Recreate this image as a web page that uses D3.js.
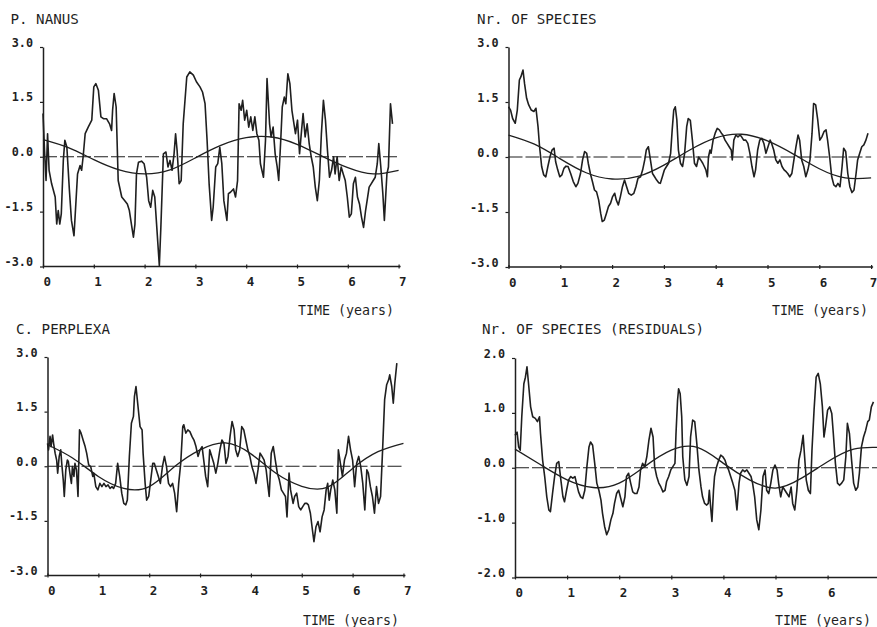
<!DOCTYPE html>
<html>
<head>
<meta charset="utf-8">
<script src="https://cdn.jsdelivr.net/npm/d3@7"></script>
<style>
  body { margin: 0; background: #fff; }
  svg { display: block; }
</style>
</head>
<body>
<svg id="chart" width="877" height="627"></svg>
<script>
// ---- data: [time in years, standardized value] ----
const nanus = [[0.00,1.18],[0.03,0.17],[0.06,-0.65],[0.09,0.63],[0.12,-0.37],[0.17,-0.74],[0.24,-1.10],[0.27,-1.84],[0.30,-1.47],[0.33,-1.84],[0.36,-1.56],[0.40,-0.10],[0.43,0.45],[0.47,0.26],[0.52,-0.92],[0.56,-1.74],[0.61,-2.16],[0.65,-1.20],[0.68,-0.47],[0.73,-0.24],[0.76,-0.37],[0.79,0.00],[0.83,0.63],[0.89,0.81],[0.96,1.00],[1.00,1.91],[1.04,2.00],[1.09,1.82],[1.14,1.09],[1.19,1.04],[1.25,1.04],[1.31,0.90],[1.35,0.72],[1.37,1.27],[1.40,1.73],[1.44,1.36],[1.48,-0.65],[1.55,-1.10],[1.61,-1.20],[1.66,-1.29],[1.70,-1.47],[1.75,-1.93],[1.78,-2.20],[1.81,-1.84],[1.84,-0.47],[1.88,-0.15],[1.94,-0.12],[1.99,-0.19],[2.04,-0.56],[2.08,-1.20],[2.12,-1.38],[2.16,-0.92],[2.20,-1.10],[2.24,-1.93],[2.29,-2.98],[2.32,-1.93],[2.37,0.08],[2.42,0.13],[2.46,-0.28],[2.50,-0.10],[2.54,-0.37],[2.58,0.08],[2.61,0.63],[2.64,0.17],[2.68,-0.74],[2.72,-0.65],[2.76,0.90],[2.83,2.18],[2.89,2.32],[2.96,2.23],[3.02,2.05],[3.09,1.91],[3.14,1.77],[3.19,1.45],[3.23,0.45],[3.27,-0.74],[3.32,-1.74],[3.35,-1.38],[3.40,-0.28],[3.44,-0.19],[3.48,0.26],[3.52,-0.19],[3.56,-1.20],[3.62,-1.74],[3.65,-1.01],[3.69,-0.97],[3.75,-0.88],[3.79,-1.10],[3.83,-0.65],[3.86,1.45],[3.90,1.27],[3.93,1.54],[3.97,1.00],[4.01,1.27],[4.05,0.81],[4.09,1.09],[4.13,0.72],[4.17,1.09],[4.21,0.63],[4.25,0.45],[4.28,-0.19],[4.34,-0.56],[4.38,0.45],[4.41,2.14],[4.46,0.90],[4.49,0.54],[4.53,0.81],[4.57,0.08],[4.61,-0.28],[4.64,-0.65],[4.68,0.45],[4.71,1.36],[4.75,1.63],[4.78,1.45],[4.82,2.27],[4.86,2.00],[4.90,1.27],[4.94,0.90],[4.97,0.63],[5.01,1.00],[5.05,0.08],[5.09,0.72],[5.12,1.18],[5.16,0.54],[5.20,0.90],[5.24,0.36],[5.28,0.00],[5.32,-0.28],[5.36,-0.83],[5.40,-1.20],[5.44,-0.65],[5.48,0.63],[5.52,1.54],[5.56,1.00],[5.60,0.17],[5.64,-0.56],[5.68,-0.37],[5.72,0.00],[5.75,-0.47],[5.79,0.00],[5.83,-0.65],[5.87,-0.28],[5.91,-0.47],[5.95,-0.65],[5.99,-1.10],[6.03,-1.65],[6.07,-1.56],[6.11,-0.74],[6.15,-0.56],[6.19,-1.10],[6.23,-1.29],[6.27,-1.65],[6.31,-1.93],[6.35,-1.47],[6.38,-1.20],[6.42,-0.83],[6.46,-0.74],[6.50,-0.65],[6.54,-0.56],[6.58,-0.19],[6.61,0.36],[6.65,-0.28],[6.69,-1.01],[6.72,-1.74],[6.77,-0.47],[6.80,-0.28],[6.84,1.45],[6.88,0.90]];

const species = [[0.00,1.37],[0.04,1.28],[0.08,1.05],[0.13,0.92],[0.17,1.28],[0.21,2.10],[0.24,2.19],[0.28,2.37],[0.31,2.00],[0.35,1.60],[0.39,1.42],[0.44,1.28],[0.49,1.24],[0.53,1.33],[0.57,0.83],[0.60,0.28],[0.64,-0.26],[0.68,-0.49],[0.72,-0.54],[0.76,-0.26],[0.80,0.00],[0.84,0.19],[0.88,0.24],[0.91,-0.13],[0.95,-0.35],[0.99,-0.54],[1.03,-0.49],[1.07,-0.31],[1.11,-0.25],[1.15,-0.26],[1.20,-0.45],[1.25,-0.67],[1.30,-0.81],[1.34,-0.72],[1.39,-0.45],[1.43,-0.08],[1.47,0.15],[1.51,0.10],[1.54,-0.17],[1.58,-0.45],[1.62,-0.67],[1.66,-0.90],[1.70,-0.95],[1.74,-1.17],[1.78,-1.54],[1.81,-1.76],[1.85,-1.72],[1.89,-1.54],[1.93,-1.35],[1.97,-1.26],[2.01,-1.08],[2.05,-0.99],[2.08,-1.17],[2.12,-1.31],[2.16,-1.08],[2.20,-0.81],[2.24,-0.63],[2.28,-0.81],[2.32,-0.99],[2.37,-1.04],[2.42,-0.99],[2.46,-0.81],[2.50,-0.58],[2.55,-0.54],[2.59,-0.35],[2.63,-0.08],[2.66,0.19],[2.70,0.28],[2.74,-0.08],[2.78,-0.45],[2.82,-0.54],[2.86,-0.63],[2.90,-0.70],[2.93,-0.72],[2.97,-0.54],[3.01,-0.35],[3.05,-0.26],[3.09,-0.17],[3.13,0.10],[3.16,0.74],[3.19,1.28],[3.22,1.37],[3.25,1.01],[3.28,0.19],[3.32,-0.17],[3.36,-0.26],[3.40,0.10],[3.44,0.83],[3.47,1.05],[3.51,1.00],[3.55,0.46],[3.59,-0.17],[3.63,-0.26],[3.67,0.00],[3.71,-0.08],[3.75,-0.17],[3.78,-0.26],[3.81,-0.35],[3.84,-0.54],[3.86,0.00],[3.89,0.19],[3.91,0.10],[3.95,0.46],[3.99,0.65],[4.03,0.78],[4.07,0.74],[4.11,0.65],[4.14,0.60],[4.18,0.46],[4.22,0.37],[4.26,0.28],[4.30,0.19],[4.32,-0.08],[4.35,0.46],[4.39,0.60],[4.43,0.55],[4.47,0.60],[4.50,0.55],[4.54,0.46],[4.58,0.46],[4.62,0.37],[4.66,0.10],[4.70,-0.26],[4.74,-0.54],[4.77,-0.35],[4.81,0.19],[4.85,0.46],[4.89,0.51],[4.93,0.37],[4.97,0.10],[5.01,0.28],[5.05,0.46],[5.08,0.37],[5.12,0.19],[5.16,-0.08],[5.20,-0.17],[5.24,-0.08],[5.28,-0.26],[5.32,-0.35],[5.36,-0.40],[5.39,-0.45],[5.43,-0.54],[5.47,-0.45],[5.51,-0.08],[5.55,0.28],[5.59,0.60],[5.62,0.46],[5.66,-0.08],[5.70,-0.26],[5.74,-0.54],[5.78,-0.35],[5.82,-0.08],[5.86,0.65],[5.89,1.46],[5.93,1.42],[5.97,1.01],[6.01,0.46],[6.05,0.55],[6.09,0.69],[6.13,0.74],[6.16,0.46],[6.20,0.00],[6.24,-0.54],[6.28,-0.76],[6.32,-0.81],[6.36,-0.72],[6.40,-0.81],[6.44,-0.26],[6.47,0.24],[6.51,0.15],[6.55,-0.45],[6.59,-0.81],[6.63,-0.97],[6.67,-0.90],[6.71,-0.45],[6.74,-0.08],[6.78,0.10],[6.82,0.28],[6.86,0.33],[6.90,0.46],[6.94,0.65]];

const perplexa = [[0.00,0.63],[0.02,0.45],[0.05,0.82],[0.07,0.54],[0.10,0.86],[0.12,0.63],[0.15,0.36],[0.18,0.17],[0.20,-0.19],[0.23,0.27],[0.26,0.45],[0.28,0.08],[0.31,-0.38],[0.33,-0.83],[0.36,-0.10],[0.39,0.17],[0.41,0.13],[0.44,-0.19],[0.47,-0.47],[0.49,-0.01],[0.52,-0.28],[0.54,0.08],[0.57,-0.10],[0.60,-0.83],[0.63,1.00],[0.66,0.91],[0.70,0.72],[0.74,0.54],[0.77,0.36],[0.81,0.04],[0.85,-0.01],[0.89,-0.28],[0.91,-0.19],[0.95,-0.56],[0.99,-0.65],[1.03,-0.47],[1.07,-0.56],[1.11,-0.47],[1.15,-0.56],[1.19,-0.51],[1.23,-0.61],[1.27,-0.56],[1.30,-0.61],[1.34,-0.47],[1.38,0.08],[1.42,-0.28],[1.46,-0.74],[1.50,-1.02],[1.54,-1.06],[1.57,-0.93],[1.61,0.27],[1.65,1.18],[1.69,1.37],[1.71,1.92],[1.74,2.19],[1.78,1.64],[1.82,1.09],[1.86,1.00],[1.88,0.36],[1.92,-0.47],[1.95,-0.93],[1.99,-0.83],[2.03,-0.38],[2.07,0.08],[2.10,0.08],[2.14,-0.10],[2.18,-0.28],[2.22,-0.47],[2.26,-0.01],[2.30,0.27],[2.34,-0.01],[2.38,-0.47],[2.42,-0.56],[2.46,-0.47],[2.50,-0.74],[2.54,-1.25],[2.58,-0.47],[2.62,0.08],[2.66,1.09],[2.68,1.14],[2.72,0.91],[2.76,1.00],[2.80,0.95],[2.84,0.82],[2.88,0.72],[2.92,0.54],[2.96,0.27],[3.00,0.45],[3.04,0.54],[3.08,0.08],[3.11,-0.28],[3.15,-0.56],[3.19,0.45],[3.23,0.27],[3.27,0.08],[3.31,-0.19],[3.35,0.08],[3.39,0.45],[3.43,0.72],[3.47,0.63],[3.51,0.08],[3.55,0.27],[3.59,0.82],[3.63,1.23],[3.67,1.00],[3.70,0.45],[3.74,0.27],[3.78,0.45],[3.82,1.09],[3.86,1.00],[3.90,0.72],[3.94,0.45],[3.98,0.27],[4.02,-0.01],[4.06,-0.19],[4.10,-0.47],[4.14,-0.10],[4.18,0.36],[4.22,0.27],[4.26,0.17],[4.30,-0.10],[4.33,-0.47],[4.36,-0.83],[4.40,0.36],[4.44,0.54],[4.48,0.17],[4.52,-0.19],[4.56,-0.38],[4.60,-0.65],[4.64,-0.74],[4.68,-0.83],[4.71,-1.39],[4.75,-0.19],[4.78,-0.65],[4.83,-1.02],[4.86,-0.83],[4.90,-0.74],[4.94,-1.11],[4.98,-1.20],[5.02,-1.11],[5.06,-1.02],[5.10,-1.02],[5.13,-1.06],[5.17,-1.29],[5.21,-1.75],[5.24,-2.07],[5.28,-1.66],[5.32,-1.52],[5.36,-1.80],[5.40,-1.39],[5.44,-1.20],[5.48,-0.65],[5.51,-0.47],[5.54,-0.93],[5.57,-0.65],[5.61,-0.38],[5.65,-0.65],[5.69,-1.29],[5.72,0.45],[5.76,0.08],[5.80,-0.28],[5.84,0.17],[5.88,0.36],[5.92,0.82],[5.96,0.45],[6.00,0.17],[6.04,-0.56],[6.08,0.08],[6.12,0.27],[6.16,-0.01],[6.20,-0.47],[6.24,-1.20],[6.28,-0.10],[6.31,-0.19],[6.35,-0.56],[6.39,-0.83],[6.43,-1.29],[6.47,-0.56],[6.51,-1.02],[6.55,-0.83],[6.59,0.45],[6.63,1.83],[6.67,2.24],[6.71,2.38],[6.73,2.51],[6.77,2.19],[6.80,1.73],[6.83,2.28],[6.87,2.83]];

const residuals = [[0.00,0.59],[0.04,0.65],[0.07,0.38],[0.10,0.32],[0.13,0.93],[0.17,1.53],[0.20,1.65],[0.23,1.84],[0.26,1.53],[0.30,1.11],[0.34,0.93],[0.39,0.90],[0.43,0.84],[0.47,0.93],[0.49,0.62],[0.53,0.14],[0.57,-0.16],[0.61,-0.53],[0.65,-0.77],[0.68,-0.80],[0.72,-0.47],[0.76,-0.16],[0.80,0.08],[0.84,0.11],[0.88,-0.22],[0.92,-0.53],[0.95,-0.62],[0.99,-0.41],[1.03,-0.22],[1.07,-0.16],[1.11,-0.19],[1.15,-0.16],[1.18,-0.28],[1.22,-0.44],[1.26,-0.53],[1.30,-0.56],[1.34,-0.41],[1.38,0.02],[1.42,0.38],[1.45,0.47],[1.49,0.41],[1.53,0.08],[1.57,-0.28],[1.61,-0.41],[1.65,-0.59],[1.68,-0.83],[1.72,-1.07],[1.76,-1.22],[1.80,-1.13],[1.84,-0.95],[1.88,-0.83],[1.91,-0.65],[1.95,-0.47],[1.99,-0.41],[2.03,-0.56],[2.07,-0.71],[2.11,-0.53],[2.14,-0.16],[2.18,-0.10],[2.22,-0.28],[2.26,-0.44],[2.30,-0.47],[2.34,-0.47],[2.38,-0.35],[2.41,-0.04],[2.45,0.08],[2.49,0.02],[2.53,0.20],[2.57,0.50],[2.61,0.72],[2.65,0.56],[2.68,0.02],[2.72,-0.16],[2.76,-0.28],[2.80,-0.35],[2.84,-0.44],[2.88,-0.41],[2.91,-0.25],[2.95,-0.16],[2.99,-0.04],[3.03,0.02],[3.07,0.08],[3.09,0.62],[3.12,1.23],[3.14,1.44],[3.17,1.35],[3.20,0.93],[3.22,0.20],[3.26,-0.22],[3.30,-0.32],[3.34,-0.16],[3.37,0.56],[3.41,0.87],[3.45,0.84],[3.49,0.44],[3.53,-0.04],[3.57,-0.35],[3.60,-0.53],[3.64,-0.65],[3.68,-0.68],[3.71,-0.65],[3.73,-0.41],[3.76,-0.77],[3.78,-0.98],[3.81,-0.41],[3.83,-0.16],[3.87,0.02],[3.91,0.14],[3.95,0.23],[3.99,0.20],[4.03,0.14],[4.07,0.02],[4.10,-0.04],[4.14,-0.16],[4.18,-0.28],[4.22,-0.41],[4.26,-0.77],[4.30,-0.28],[4.33,-0.10],[4.37,-0.04],[4.41,-0.07],[4.45,-0.04],[4.49,-0.10],[4.53,-0.16],[4.56,-0.28],[4.60,-0.53],[4.64,-0.95],[4.68,-1.13],[4.72,-0.77],[4.76,-0.16],[4.80,-0.04],[4.83,-0.41],[4.87,-0.47],[4.91,-0.28],[4.95,-0.04],[4.99,0.05],[5.03,-0.04],[5.06,-0.28],[5.10,-0.53],[5.14,-0.35],[5.18,-0.41],[5.22,-0.47],[5.26,-0.53],[5.30,-0.35],[5.33,-0.65],[5.37,-0.77],[5.41,-0.41],[5.45,0.14],[5.49,0.32],[5.53,0.59],[5.55,0.32],[5.59,-0.22],[5.63,-0.41],[5.67,-0.47],[5.70,0.32],[5.74,1.05],[5.78,1.65],[5.82,1.72],[5.86,1.53],[5.90,1.11],[5.93,0.56],[5.96,0.75],[6.00,1.05],[6.04,1.11],[6.08,0.99],[6.11,0.62],[6.15,0.08],[6.19,-0.28],[6.23,-0.32],[6.27,-0.28],[6.31,-0.22],[6.35,0.20],[6.38,0.81],[6.42,0.62],[6.46,0.14],[6.50,-0.28],[6.54,-0.41],[6.58,-0.35],[6.61,-0.10],[6.65,0.38],[6.69,0.56],[6.73,0.68],[6.77,0.84],[6.80,0.87],[6.84,1.11],[6.88,1.20]];

// fitted periodic curves, sampled every half year
const fitTime = [0, 0.5, 1, 1.5, 2, 2.5, 3, 3.5, 4, 4.5, 5, 5.5, 6, 6.5, 7];
const nanusFit     = [0.47, 0.25, -0.08, -0.36, -0.47, -0.36, -0.03, 0.31, 0.52, 0.54, 0.34, 0.01, -0.30, -0.47, -0.37];
const speciesFit   = [0.60, 0.35, -0.05, -0.43, -0.60, -0.53, -0.22, 0.19, 0.52, 0.62, 0.44, 0.08, -0.32, -0.57, -0.57];
const perplexaFit  = [0.59, 0.22, -0.28, -0.61, -0.56, -0.01, 0.45, 0.64, 0.34, -0.20, -0.55, -0.58, -0.06, 0.40, 0.63];
const residualFit  = [0.34, 0.05, -0.22, -0.36, -0.28, 0.03, 0.32, 0.37, 0.08, -0.22, -0.37, -0.19, 0.11, 0.34, 0.37];

// axis ticks
const yTicksWide = [-3, -1.5, 0, 1.5, 3];
const yLabelsWide = ["-3.0", "-1.5", "0.0", "1.5", "3.0"];
const yTicksNarrow = [-2, -1, 0, 1, 2];
const yLabelsNarrow = ["-2.0", "-1.0", "0.0", "1.0", "2.0"];
const xTicksFull = [0, 1, 2, 3, 4, 5, 6, 7];
const xTicksShort = [0, 1, 2, 3, 4, 5, 6];

const titles = ["P. NANUS", "Nr. OF SPECIES", "C. PERPLEXA", "Nr. OF SPECIES (RESIDUALS)"];
const xAxisTitle = "TIME (years)";

// ---- layout ----
const W = 877;
const ink = "#1f1f1f";
const panels = [
  { title: titles[0], series: nanus, fit: nanusFit, yDom: [-3, 3], yTicks: yTicksWide, yLabels: yLabelsWide, xTicks: xTicksFull,
    x0: 43, xStep: 50.8, top: 47, bottom: 266.5, titleX: 10.5, titleY: 24, timeRight: 394, timeY: 315 },
  { title: titles[1], series: species, fit: speciesFit, yDom: [-3, 3], yTicks: yTicksWide, yLabels: yLabelsWide, xTicks: xTicksFull,
    x0: 508.5, xStep: 51.8, top: 47, bottom: 267, titleX: 477, titleY: 24, timeRight: 868, timeY: 315 },
  { title: titles[2], series: perplexa, fit: perplexaFit, yDom: [-3, 3], yTicks: yTicksWide, yLabels: yLabelsWide, xTicks: xTicksFull,
    x0: 47.5, xStep: 50.85, top: 357, bottom: 575.5, titleX: 16, titleY: 334, timeRight: 399, timeY: 625 },
  { title: titles[3], series: residuals, fit: residualFit, yDom: [-2, 2], yTicks: yTicksNarrow, yLabels: yLabelsNarrow, xTicks: xTicksShort,
    x0: 515, xStep: 52.1, top: 358, bottom: 577.5, titleX: 482, titleY: 334, timeRight: 871, timeY: 625 }
];

const svg = d3.select("#chart");
const mono = "'DejaVu Sans Mono', 'Liberation Mono', monospace";

panels.forEach(p => {
  const g = svg.append("g");
  const x = d3.scaleLinear().domain([0, 7]).range([p.x0, p.x0 + 7 * p.xStep]);
  const y = d3.scaleLinear().domain(p.yDom).range([p.bottom, p.top]);

  // title
  g.append("text")
    .attr("x", p.titleX).attr("y", p.titleY)
    .attr("font-family", mono).attr("font-size", 14.2)
    .attr("fill", ink)
    .text(p.title);

  // y axis
  const yAxis = d3.axisLeft(y)
    .tickValues(p.yTicks)
    .tickFormat((d, i) => p.yLabels[i])
    .tickSize(3).tickSizeOuter(0).tickPadding(7);
  const ya = g.append("g").attr("transform", `translate(${p.x0},0)`).call(yAxis);
  ya.select(".domain").attr("stroke", ink).attr("stroke-width", 1.5);
  ya.selectAll(".tick line").attr("stroke", ink).attr("stroke-width", 1.2);
  ya.selectAll(".tick text")
    .attr("font-family", mono).attr("font-size", 11.8).attr("font-weight", "bold")
    .attr("fill", ink).attr("dy", "-0.08em");

  // x axis
  const xAxis = d3.axisBottom(x)
    .tickValues(p.xTicks)
    .tickFormat(d3.format("d"))
    .tickSize(3).tickSizeOuter(0).tickPadding(8);
  const xa = g.append("g").attr("transform", `translate(0,${p.bottom})`).call(xAxis);
  xa.select(".domain").attr("stroke", ink).attr("stroke-width", 1.5)
    .attr("d", `M${p.x0},0H${Math.min(x(7) + 2, W)}`);
  xa.selectAll(".tick line").attr("stroke", ink).attr("stroke-width", 1.2).attr("y1", -2).attr("y2", 2);
  xa.selectAll(".tick text")
    .attr("font-family", mono).attr("font-size", 12.5).attr("font-weight", "bold")
    .attr("fill", ink)
    // keep the last label inside the right edge of the page
    .attr("dx", d => (x(d) + 8 > W ? `${W - 4 - x(d)}px` : "0.3em"));

  // x axis title
  g.append("text")
    .attr("x", p.timeRight).attr("y", p.timeY)
    .attr("text-anchor", "end")
    .attr("font-family", mono).attr("font-size", 13.3)
    .attr("fill", ink)
    .text(xAxisTitle);

  // zero reference line
  g.append("line")
    .attr("x1", x(0)).attr("x2", x(7))
    .attr("y1", y(0)).attr("y2", y(0))
    .attr("stroke", ink).attr("stroke-width", 1.1)
    .attr("stroke-dasharray", "14,3");

  // fitted curve
  const fitLine = d3.line()
    .x((d, i) => x(fitTime[i]))
    .y(d => y(d))
    .curve(d3.curveNatural);
  g.append("path")
    .datum(p.fit)
    .attr("d", fitLine)
    .attr("fill", "none").attr("stroke", ink).attr("stroke-width", 1.3);

  // observed series
  const seriesLine = d3.line()
    .x(d => x(d[0]))
    .y(d => y(d[1]));
  g.append("path")
    .datum(p.series)
    .attr("d", seriesLine)
    .attr("fill", "none").attr("stroke", ink)
    .attr("stroke-width", 1.6).attr("stroke-linejoin", "round");
});
</script>
</body>
</html>
